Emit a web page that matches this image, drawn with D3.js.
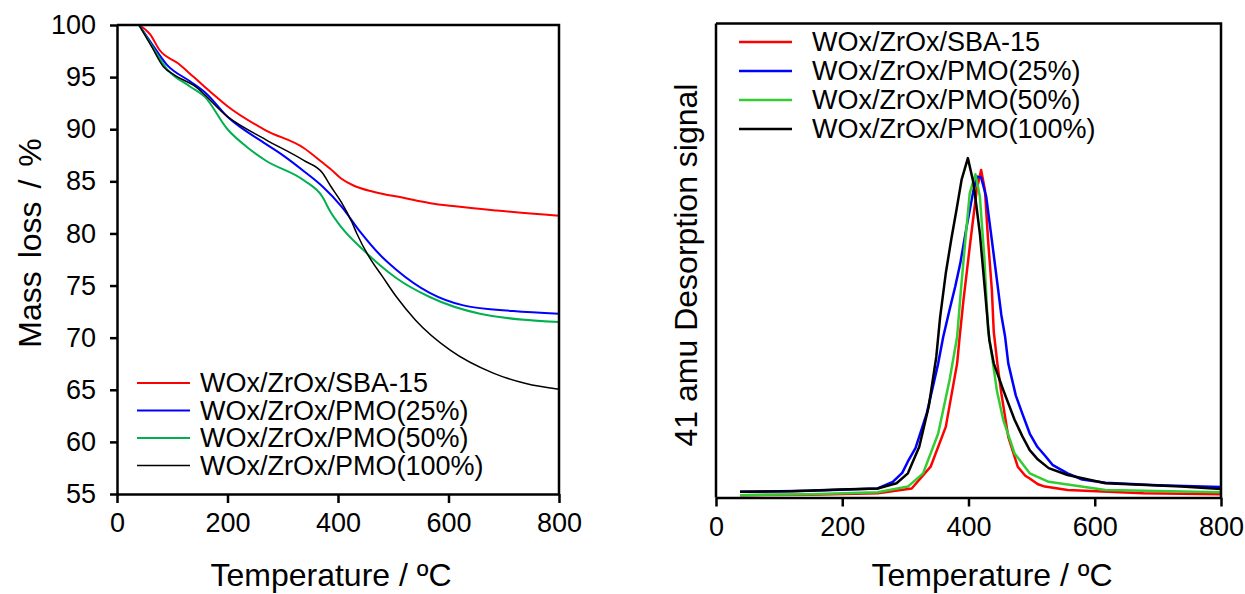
<!DOCTYPE html>
<html>
<head>
<meta charset="utf-8">
<script src="https://cdn.jsdelivr.net/npm/d3@7"></script>
<style>
  body { margin: 0; background: #fff; }
  svg { font-family: "Liberation Sans", Arial, sans-serif; }
</style>
</head>
<body>
<div id="chart"></div>
<script>
// series names, shared by both panels
const seriesNames = ['WOx/ZrOx/SBA-15', 'WOx/ZrOx/PMO(25%)', 'WOx/ZrOx/PMO(50%)', 'WOx/ZrOx/PMO(100%)'];
const tgaColors = ['#ff0000', '#0000ff', '#00b050', '#000000'];
const tpdColors = ['#ff0000', '#0000ff', '#33cc33', '#000000'];

const xTicks = [0, 200, 400, 600, 800];
const massTicks = [55, 60, 65, 70, 75, 80, 85, 90, 95, 100];

// TGA: [temperature, mass %]
const tgaSBA15 = [[40,100],[60,99.1],[77,97.6],[111,96.3],[139,95.0],[173,93.4],[200,92.2],[269,89.9],[338,88.2],[372,86.8],[386,86.2],[405,85.3],[428,84.6],[464,84.0],[520,83.4],[567,82.9],[612,82.6],[687,82.2],[800,81.7]];
const tgaPMO25 = [[40,100],[63,98.2],[90,96.2],[132,94.6],[160,93.5],[200,91.2],[269,88.6],[303,87.4],[340,85.9],[372,84.5],[406,82.6],[441,80.1],[475,78.0],[506,76.5],[566,74.3],[627,73.1],[717,72.55],[800,72.3]];
const tgaPMO50 = [[40,100],[63,98.0],[90,95.8],[132,94.1],[159,93.1],[200,90.0],[235,88.3],[269,87.0],[338,85.1],[372,83.5],[386,82.1],[406,80.6],[446,78.4],[475,77.0],[506,75.7],[566,73.9],[657,72.3],[800,71.5]];
const tgaPMO100 = [[40,100],[63,97.9],[84,96.0],[104,95.2],[139,94.2],[200,91.2],[269,89.0],[338,87.0],[372,85.8],[386,84.6],[406,83.0],[425,81.1],[434,80.0],[458,77.6],[480,75.9],[506,73.9],[540,71.7],[603,68.8],[681,66.6],[740,65.6],[800,65.05]];

// TPD: [temperature, signal as % of axis height]
const tpdSBA15 = [[38,0.5],[150,0.6],[256,0.9],[310,1.9],[340,6.5],[364,14.9],[382,28.3],[386,33.9],[392,41.6],[402,52.9],[413,64.9],[420,69.1],[426,64.9],[431,54.3],[437,43.8],[440,35.0],[446,28.0],[452,22.0],[463,12.8],[478,6.5],[490,4.6],[497,4.0],[510,2.8],[521,2.3],[557,1.6],[677,0.9],[800,0.7]];
const tpdPMO25 = [[38,1.2],[150,1.4],[256,1.9],[280,3.3],[295,5.2],[304,7.6],[316,10.4],[334,17.8],[352,28.3],[360,33.9],[370,39.6],[379,44.5],[387,49.4],[397,57.1],[408,64.9],[414,67.7],[420,67.5],[428,63.5],[437,54.3],[447,43.8],[452,38.5],[458,33.9],[463,28.3],[475,21.5],[485,17.8],[497,13.5],[509,10.7],[522,8.7],[533,6.9],[557,5.1],[580,3.8],[617,3.1],[700,2.6],[800,2.2]];
const tpdPMO50 = [[38,0.5],[150,0.7],[256,1.1],[304,2.3],[328,5.1],[352,13.5],[370,24.8],[382,33.9],[388,43.8],[395,54.3],[402,64.2],[411,68.2],[418,63.5],[425,50.8],[431,35.3],[437,30.0],[445,22.5],[455,16.4],[473,9.3],[497,5.1],[527,3.3],[617,1.6],[800,1.1]];
const tpdPMO100 = [[38,1.2],[120,1.3],[196,1.7],[256,1.9],[286,3.0],[304,5.1],[322,10.7],[337,19.2],[349,29.7],[355,38.0],[364,47.3],[373,54.7],[381,60.7],[389,67.0],[399,71.6],[408,66.3],[418,55.7],[426,43.8],[433,33.2],[440,28.3],[455,22.7],[473,16.4],[485,13.0],[497,10.0],[510,8.0],[527,6.2],[557,4.75],[617,3.0],[737,2.3],[800,1.8]];

const tgaData = [tgaSBA15, tgaPMO25, tgaPMO50, tgaPMO100];
const tpdData = [tpdSBA15, tpdPMO25, tpdPMO50, tpdPMO100];

const width = 1245, height = 594;
const svg = d3.select('#chart').append('svg')
    .attr('width', width)
    .attr('height', height);

const axisWidth = 2.5;
const tickFont = 27;
const legendFont = 27;
const titleFont = 32;

// draws the frame, x axis and lines of one panel
function drawPanel(box, yDomain, data, colors, lineWidths, curve) {
    const x = d3.scaleLinear([0, 800], [box.left, box.right]);
    const y = d3.scaleLinear(yDomain, [box.bottom, box.top]);

    const g = svg.append('g');

    // lines first, so the frame sits on top
    const line = d3.line()
        .x(d => x(d[0]))
        .y(d => y(d[1]))
        .curve(curve);

    g.selectAll('path.series')
        .data(data)
        .join('path')
        .attr('class', 'series')
        .attr('d', line)
        .attr('fill', 'none')
        .attr('stroke', (d, i) => colors[i])
        .attr('stroke-width', (d, i) => lineWidths[i])
        .attr('stroke-linejoin', 'round');

    // x axis
    const xAxis = g.append('g')
        .attr('transform', `translate(0,${box.bottom})`)
        .call(d3.axisBottom(x).tickValues(xTicks).tickSize(9).tickSizeOuter(0).tickPadding(10));
    xAxis.select('.domain').attr('stroke-width', axisWidth);
    xAxis.selectAll('.tick line').attr('stroke-width', axisWidth);
    xAxis.selectAll('.tick text')
        .attr('font-size', tickFont)
        .attr('fill', '#000')
        .attr('font-family', '"Liberation Sans", Arial, sans-serif');

    // top and right border
    g.append('path')
        .attr('d', `M${box.left},${box.top}H${box.right}V${box.bottom}`)
        .attr('fill', 'none')
        .attr('stroke', '#000')
        .attr('stroke-width', axisWidth);

    return { g, x, y };
}

function drawLegend(g, left, top, step, textGap, colors, lineWidths) {
    const rows = g.append('g').selectAll('g')
        .data(seriesNames)
        .join('g')
        .attr('transform', (d, i) => `translate(${left},${top + i * step})`);

    rows.append('line')
        .attr('x1', 0).attr('x2', 53)
        .attr('stroke', (d, i) => colors[i])
        .attr('stroke-width', (d, i) => lineWidths[i]);

    rows.append('text')
        .attr('x', textGap)
        .attr('dy', '0.35em')
        .attr('font-size', legendFont)
        .text(d => d);
}

// Left panel: TGA
const leftBox = { left: 117, right: 559, top: 25, bottom: 494 };
const left = drawPanel(leftBox, [55, 100], tgaData, tgaColors, [2, 2, 2, 1.5], d3.curveMonotoneX);

const yAxis = left.g.append('g')
    .attr('transform', `translate(${leftBox.left},0)`)
    .call(d3.axisLeft(left.y).tickValues(massTicks).tickSize(7).tickSizeOuter(0).tickPadding(14));
yAxis.select('.domain').attr('stroke-width', axisWidth);
yAxis.selectAll('.tick line').attr('stroke-width', axisWidth);
yAxis.selectAll('.tick text')
    .attr('font-size', tickFont)
    .attr('fill', '#000')
    .attr('font-family', '"Liberation Sans", Arial, sans-serif');

drawLegend(left.g, 137, 383, 27.5, 63, tgaColors, [2, 2, 2, 1.5]);

left.g.append('text')
    .attr('x', 331).attr('y', 586)
    .attr('text-anchor', 'middle')
    .attr('font-size', titleFont)
    .text('Temperature / ºC');

left.g.append('text')
    .attr('transform', 'translate(41,243) rotate(-90)')
    .attr('text-anchor', 'middle')
    .attr('font-size', titleFont)
    .attr('word-spacing', 4)
    .text('Mass loss / %');

// Right panel: TPD
const rightBox = { left: 716, right: 1221, top: 23.5, bottom: 497.5 };
const right = drawPanel(rightBox, [0, 100], tpdData, tpdColors, [2.5, 2.5, 2.5, 2.5], d3.curveLinear);

// plain left axis, no ticks
right.g.append('line')
    .attr('x1', rightBox.left).attr('x2', rightBox.left)
    .attr('y1', rightBox.top).attr('y2', rightBox.bottom)
    .attr('stroke', '#000')
    .attr('stroke-width', axisWidth);

drawLegend(right.g, 739, 42, 29, 73, tpdColors, [2.5, 2.5, 2.5, 2.5]);

right.g.append('text')
    .attr('x', 992).attr('y', 586)
    .attr('text-anchor', 'middle')
    .attr('font-size', titleFont)
    .text('Temperature / ºC');

right.g.append('text')
    .attr('transform', 'translate(697,265) rotate(-90)')
    .attr('text-anchor', 'middle')
    .attr('font-size', titleFont)
    .text('41 amu Desorption signal');
</script>
</body>
</html>
